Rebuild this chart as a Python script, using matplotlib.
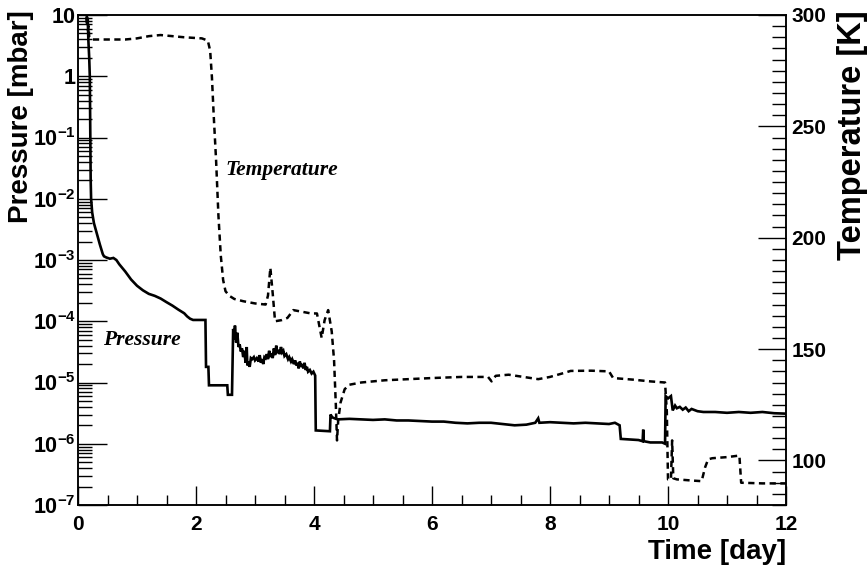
import matplotlib
matplotlib.use("Agg")
import matplotlib.pyplot as plt
from matplotlib.ticker import MultipleLocator, FixedLocator, FixedFormatter, LogLocator, NullFormatter

# ---------------- data ----------------
press_t = [0.150, 0.158, 0.165, 0.175, 0.190, 0.200, 0.205, 0.210, 0.215, 0.222,
           0.240, 0.270, 0.320, 0.370, 0.420, 0.440, 0.480, 0.540, 0.600, 0.650,
           0.700, 0.800, 0.900, 1.000, 1.100, 1.200, 1.300, 1.400, 1.500, 1.600,
           1.700, 1.800, 1.850, 1.900, 1.950, 2.100, 2.160, 2.170, 2.210, 2.220,
           2.530, 2.540, 2.610, 2.630, 2.650, 2.660, 2.680, 2.700, 2.720, 2.740,
           2.760, 2.780, 2.800, 2.820, 2.840, 2.860, 2.870, 2.890, 2.910, 2.930,
           2.950, 2.980, 3.000, 3.030, 3.060, 3.080, 3.100, 3.120, 3.140, 3.160,
           3.180, 3.200, 3.220, 3.240, 3.260, 3.280, 3.300, 3.320, 3.340, 3.360,
           3.380, 3.400, 3.420, 3.440, 3.460, 3.480, 3.500, 3.530, 3.560, 3.580,
           3.610, 3.630, 3.660, 3.680, 3.700, 3.720, 3.740, 3.760, 3.780, 3.800,
           3.820, 3.840, 3.860, 3.880, 3.900, 3.930, 3.960, 3.990, 4.020, 4.030,
           4.270, 4.280, 4.310, 4.350, 4.400, 4.600, 4.800, 5.000, 5.200, 5.400,
           5.600, 5.800, 6.000, 6.200, 6.400, 6.600, 6.800, 7.000, 7.200, 7.400,
           7.600, 7.750, 7.800, 7.820, 8.000, 8.200, 8.400, 8.600, 8.800, 9.000,
           9.100, 9.180, 9.200, 9.500, 9.570, 9.580, 9.590, 9.700, 9.900, 9.950,
           9.960, 10.00, 10.05, 10.08, 10.12, 10.15, 10.20, 10.25, 10.30, 10.35,
           10.40, 10.50, 10.60, 10.80, 11.00, 11.20, 11.40, 11.60, 11.80, 12.00]
press_p = [9.5, 7.0, 9.0, 4.0, 2.0, 1.0, 0.3, 0.08, 0.02, 0.01,
           6e-3, 4e-3, 2.7e-3, 1.8e-3, 1.25e-3, 1.15e-3, 1.1e-3, 1.05e-3, 1.08e-3, 1.0e-3,
           8.5e-4, 6.5e-4, 4.8e-4, 3.8e-4, 3.2e-4, 2.8e-4, 2.6e-4, 2.35e-4, 2.05e-4, 1.8e-4,
           1.55e-4, 1.35e-4, 1.2e-4, 1.1e-4, 1.05e-4, 1.05e-4, 1.05e-4, 1.8e-5, 1.8e-5, 9e-6,
           9e-6, 6.3e-6, 6.3e-6, 7.5e-5, 5.0e-5, 8.5e-5, 4.5e-5, 6.5e-5, 3.8e-5, 4.2e-5,
           3.2e-5, 3.6e-5, 2.6e-5, 3.3e-5, 2.1e-5, 3.8e-5, 1.9e-5, 2.2e-5, 1.8e-5, 2.5e-5,
           2.4e-5, 2.6e-5, 2.3e-5, 2.5e-5, 2.2e-5, 2.8e-5, 2.1e-5, 2.4e-5, 2.0e-5, 2.6e-5,
           2.5e-5, 2.9e-5, 2.4e-5, 3.3e-5, 2.6e-5, 3.0e-5, 2.5e-5, 3.6e-5, 2.8e-5, 4.0e-5,
           3.0e-5, 3.4e-5, 2.9e-5, 3.8e-5, 3.1e-5, 3.3e-5, 2.7e-5, 2.9e-5, 2.4e-5, 2.6e-5,
           2.2e-5, 2.4e-5, 2.0e-5, 2.3e-5, 1.9e-5, 2.1e-5, 1.7e-5, 2.2e-5, 1.8e-5, 2.0e-5,
           1.7e-5, 2.1e-5, 1.6e-5, 1.8e-5, 1.5e-5, 1.6e-5, 1.4e-5, 1.5e-5, 1.3e-5, 1.65e-6,
           1.6e-6, 3.0e-6, 2.7e-6, 2.6e-6, 2.5e-6, 2.55e-6, 2.5e-6, 2.45e-6, 2.5e-6, 2.4e-6,
           2.4e-6, 2.35e-6, 2.3e-6, 2.3e-6, 2.2e-6, 2.15e-6, 2.2e-6, 2.2e-6, 2.1e-6, 2.0e-6,
           2.05e-6, 2.2e-6, 2.6e-6, 2.2e-6, 2.25e-6, 2.2e-6, 2.15e-6, 2.2e-6, 2.15e-6, 2.1e-6,
           2.2e-6, 2.0e-6, 1.2e-6, 1.15e-6, 1.1e-6, 1.7e-6, 1.1e-6, 1.05e-6, 1.05e-6, 1.0e-6,
           6.0e-6, 5.5e-6, 6.0e-6, 3.5e-6, 4.2e-6, 3.8e-6, 4.0e-6, 3.6e-6, 3.9e-6, 3.4e-6,
           3.7e-6, 3.4e-6, 3.3e-6, 3.3e-6, 3.2e-6, 3.3e-6, 3.2e-6, 3.3e-6, 3.15e-6, 3.1e-6]

temp_t = [0.14, 0.15, 0.16, 0.17, 0.18, 0.19, 0.22, 0.50, 0.80, 1.00,
          1.20, 1.40, 1.60, 1.80, 2.10, 2.20, 2.24, 2.27, 2.30, 2.34,
          2.38, 2.42, 2.46, 2.50, 2.56, 2.65, 2.80, 3.00, 3.18, 3.22,
          3.26, 3.30, 3.34, 3.45, 3.55, 3.65, 3.75, 3.95, 4.05, 4.13,
          4.18, 4.24, 4.30, 4.34, 4.37, 4.39, 4.41, 4.45, 4.52, 4.60,
          4.80, 5.20, 5.60, 6.00, 6.50, 6.95, 7.01, 7.08, 7.30, 7.55,
          7.80, 8.00, 8.20, 8.35, 8.70, 9.00, 9.07, 9.40, 9.70, 9.95,
          9.98, 10.00, 10.05, 10.07, 10.09, 10.15, 10.40, 10.57, 10.63, 10.68,
          10.75, 11.00, 11.21, 11.24, 11.60, 12.00]
temp_k = [299, 296, 298, 293, 295, 290, 289, 289, 289, 289.5,
          290.5, 291, 290.5, 290, 289.5, 288.5, 284, 272, 255, 235,
          210, 192, 181, 176, 174, 172.5, 171.5, 170.5, 170, 174,
          186.5, 175, 162.5, 163, 164, 167.5, 167, 166, 166, 155,
          163, 167.5, 158, 145, 125, 109, 118, 126, 132, 134,
          135, 136, 136.5, 137, 137.5, 137.5, 135.5, 138, 138.5, 137.5,
          136.5, 137.5, 139, 140.2, 140.3, 140, 137, 136.3, 135.5, 135,
          122, 91.5, 91.5, 109, 92, 91.5, 91, 90.7, 97, 100.5,
          101, 101.5, 102.2, 90, 89.7, 89.7]

p_ticks = [1e-7, 1e-6, 1e-5, 1e-4, 1e-3, 1e-2, 1e-1, 1, 10]
p_labels = [r"$10^{-7}$", r"$10^{-6}$", r"$10^{-5}$", r"$10^{-4}$", r"$10^{-3}$",
            r"$10^{-2}$", r"$10^{-1}$", "1", "10"]
t_ticks = [100, 150, 200, 250, 300]
x_ticks = [0, 2, 4, 6, 8, 10, 12]

# ---------------- style ----------------
plt.rcParams["font.family"] = ["Liberation Sans", "DejaVu Sans"]
plt.rcParams["font.weight"] = "bold"
plt.rcParams["mathtext.fontset"] = "custom"
plt.rcParams["mathtext.rm"] = "Liberation Sans:bold"
plt.rcParams["mathtext.bf"] = "Liberation Sans:bold"
plt.rcParams["mathtext.it"] = "Liberation Sans:bold"
plt.rcParams["mathtext.default"] = "rm"
plt.rcParams["lines.scale_dashes"] = False

W, H = 867, 570
fig = plt.figure(figsize=(W / 100, H / 100), dpi=100)
L, R, T, B = 78, 786, 15, 505
ax = fig.add_axes([L / W, 1 - B / H, (R - L) / W, (B - T) / H])
ax2 = ax.twinx()

ax.plot(press_t, press_p, color="black", lw=1.9, solid_joinstyle="miter")
ax2.plot(temp_t, temp_k, color="black", lw=1.8, dashes=(4.5, 3.2))

ax.set_yscale("log")
ax.set_xlim(0, 12)
ax.set_ylim(1e-7, 10)
ax2.set_ylim(80, 300)

for a in (ax, ax2):
    for s in a.spines.values():
        s.set_linewidth(1.1)

# x axis
ax.xaxis.set_major_locator(FixedLocator(x_ticks))
ax.xaxis.set_minor_locator(MultipleLocator(0.5))
ax.tick_params(axis="x", which="both", direction="in", top=False, bottom=True,
               labelsize=15, pad=7, width=1.0)
ax.tick_params(axis="x", which="major", length=14)
ax.tick_params(axis="x", which="minor", length=7)

# left y axis
ax.yaxis.set_major_locator(FixedLocator(p_ticks))
ax.yaxis.set_major_formatter(FixedFormatter(p_labels))
ax.yaxis.set_minor_locator(LogLocator(base=10, subs=range(2, 10), numticks=50))
ax.yaxis.set_minor_formatter(NullFormatter())
ax.tick_params(axis="y", which="both", direction="in", left=True, right=False,
               labelsize=15.5, pad=1.5, width=1.0)
ax.tick_params(axis="y", which="major", length=21)
ax.tick_params(axis="y", which="minor", length=10)

# right y axis
ax2.yaxis.set_major_locator(FixedLocator(t_ticks))
ax2.yaxis.set_minor_locator(MultipleLocator(5))
ax2.tick_params(axis="y", which="both", direction="in", right=True, left=False,
                labelsize=15, pad=4, width=1.0)
ax2.tick_params(axis="y", which="major", length=20)
ax2.tick_params(axis="y", which="minor", length=10)

# axis titles
fig.text(21 / W, 1 - 10 / H, "Pressure [mbar]", rotation=90, ha="center", va="top",
         fontsize=20, fontweight="bold")
fig.text(853 / W, 1 - 10 / H, "Temperature [K]", rotation=90, ha="center", va="top",
         fontsize=23.5, fontweight="bold")
fig.text(786 / W, 1 - 552 / H, "Time [day]", ha="right", va="center",
         fontsize=20, fontweight="bold")

# curve annotations
ax.text(0.2076, 0.6837, "Temperature", transform=ax.transAxes, ha="left", va="center",
        fontsize=15.5, family="Liberation Serif", style="italic", fontweight="bold")
ax.text(0.0353, 0.3367, "Pressure", transform=ax.transAxes, ha="left", va="center",
        fontsize=15.5, family="Liberation Serif", style="italic", fontweight="bold")

fig.savefig("out.png", dpi=100)
